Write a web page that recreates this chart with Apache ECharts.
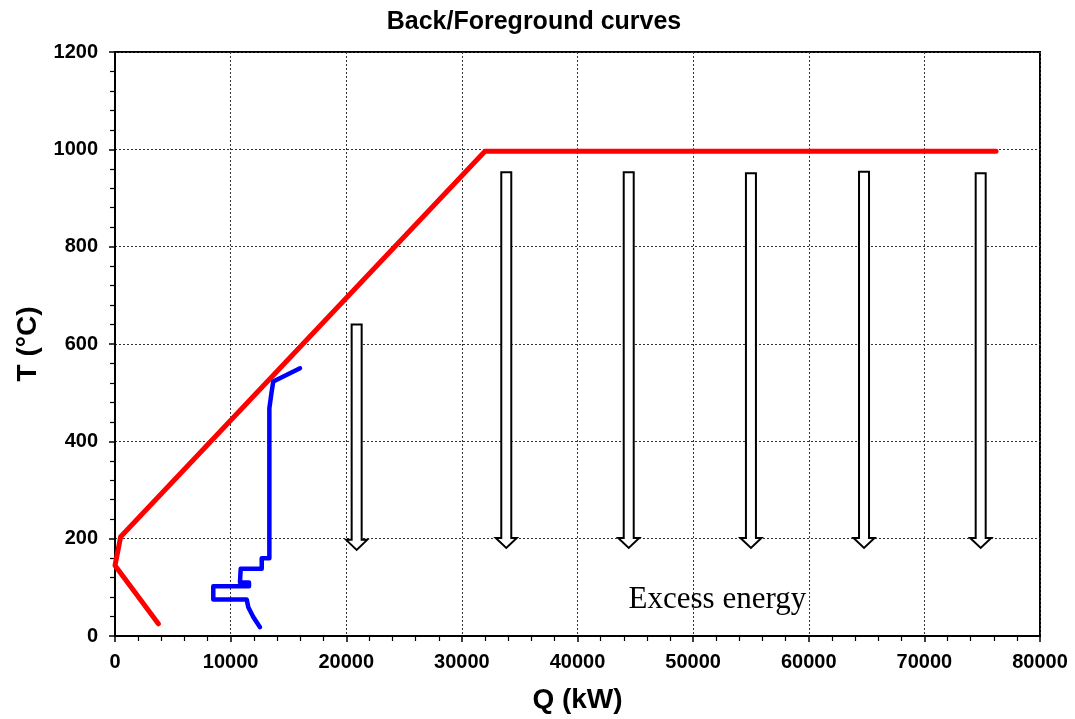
<!DOCTYPE html>
<html>
<head>
<meta charset="utf-8">
<script src="https://cdn.jsdelivr.net/npm/echarts@6/dist/echarts.min.js"></script>
<style>
html,body{margin:0;padding:0;background:#fff;}
#chart{width:1075px;height:719px;}
</style>
</head>
<body>
<div id="chart"></div>
<script>
// Background (red) curve: [Q kW, T °C]
const backgroundCurve = [[3750, 25], [0, 145], [490, 204], [32000, 996], [76200, 996]];
// Foreground (blue) curve: [Q kW, T °C]
const foregroundCurve = [
  [16000, 550], [13690, 523], [13550, 502], [13350, 468], [13350, 160],
  [12690, 160], [12690, 138], [10870, 138], [10810, 110], [11590, 110],
  [11590, 102], [8500, 102], [8500, 75], [11390, 75], [11530, 59],
  [11960, 39], [12540, 18]
];
// Hollow arrows: [Q kW, top T, tip T]
const arrows = [
  [20900, 640, 177], [33840, 953, 181], [44430, 953, 181],
  [55000, 951, 181], [64780, 954, 181], [74870, 951, 181]
];
const annotation = [[52100, 74, 'Excess energy']];
const xTicks = {min: 0, max: 80000, interval: 10000};
const yTicks = {min: 0, max: 1200, interval: 200};

const chart = echarts.init(document.getElementById('chart'), null, {renderer: 'canvas'});
const font = 'Liberation Sans, Arial, sans-serif';
const plain = function (v) { return String(v); };
const option = {
  animation: false,
  backgroundColor: '#fff',
  title: {
    text: 'Back/Foreground curves',
    left: 529, top: 5, textAlign: 'center',
    textStyle: {fontFamily: font, fontWeight: 'bold', fontSize: 25, color: '#000'}
  },
  grid: {left: 115, right: 35, top: 52, bottom: 80, show: true, borderColor: '#000', borderWidth: 2, backgroundColor: 'transparent'},
  xAxis: {
    type: 'value', min: xTicks.min, max: xTicks.max, interval: xTicks.interval,
    name: 'Q (kW)', nameLocation: 'middle', nameGap: 50,
    nameTextStyle: {fontFamily: font, fontWeight: 'bold', fontSize: 28, color: '#000'},
    axisLine: {show: true, onZero: false, lineStyle: {color: '#000', width: 2}},
    axisTick: {show: true, inside: false, length: 6, lineStyle: {color: '#000', width: 1.5}},
    minorTick: {show: true, splitNumber: 5, length: 5, lineStyle: {color: '#000', width: 1.2}},
    axisLabel: {fontFamily: font, fontWeight: 'bold', fontSize: 20, color: '#000', margin: 16, formatter: plain},
    splitLine: {show: true, lineStyle: {color: '#333', type: [2, 2], width: 1}}
  },
  yAxis: {
    type: 'value', min: yTicks.min, max: yTicks.max, interval: yTicks.interval,
    name: 'T (°C)', nameLocation: 'middle', nameGap: 68, nameRotate: 90,
    nameTextStyle: {fontFamily: font, fontWeight: 'bold', fontSize: 28, color: '#000'},
    axisLine: {show: true, onZero: false, lineStyle: {color: '#000', width: 2}},
    axisTick: {show: true, inside: false, length: 6, lineStyle: {color: '#000', width: 1.5}},
    minorTick: {show: true, splitNumber: 5, length: 5, lineStyle: {color: '#000', width: 1.2}},
    axisLabel: {fontFamily: font, fontWeight: 'bold', fontSize: 20, color: '#000', margin: 17, formatter: plain},
    splitLine: {show: true, lineStyle: {color: '#333', type: [2, 2], width: 1}}
  },
  series: [
    {
      type: 'custom', name: 'arrows', data: arrows, z: 3,
      renderItem: function (params, api) {
        const top = api.coord([api.value(0), api.value(1)]);
        const tip = api.coord([api.value(0), api.value(2)]);
        const cx = top[0], sw = 5, hw = 10.5, hh = 10;
        const base = tip[1] - hh;
        return {
          type: 'polygon',
          shape: {points: [[cx - sw, top[1]], [cx + sw, top[1]], [cx + sw, base], [cx + hw, base], [cx, tip[1]], [cx - hw, base], [cx - sw, base]]},
          style: {fill: '#fff', stroke: '#000', lineWidth: 2}
        };
      }
    },
    {
      type: 'line', name: 'background', data: backgroundCurve, z: 4,
      symbol: 'none', lineStyle: {color: '#ff0000', width: 5, cap: 'round', join: 'round'}
    },
    {
      type: 'line', name: 'foreground', data: foregroundCurve, z: 5,
      symbol: 'none', lineStyle: {color: '#0000ff', width: 4.5, cap: 'round', join: 'round'}
    },
    {
      type: 'scatter', name: 'annotation', data: annotation, symbolSize: 0, z: 6,
      itemStyle: {opacity: 1},
      label: {
        show: true, position: 'inside', opacity: 1,
        formatter: function (p) { return p.value[2]; },
        fontFamily: 'Liberation Serif, Times New Roman, serif', fontSize: 31, color: '#000'
      }
    }
  ]
};
chart.setOption(option);
</script>
</body>
</html>
